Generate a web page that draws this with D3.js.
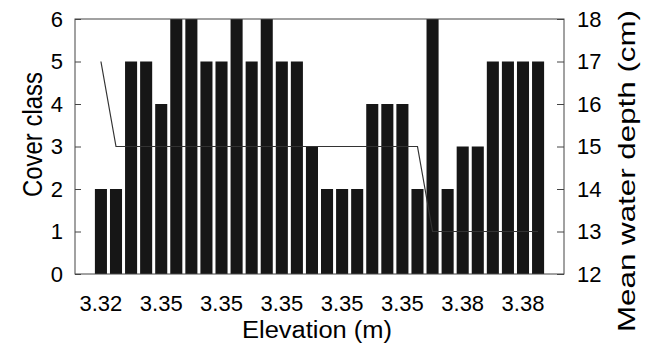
<!DOCTYPE html>
<html>
<head>
<meta charset="utf-8">
<script src="https://cdn.jsdelivr.net/npm/d3@7"></script>
<style>
  body { margin: 0; background: #fff; }
  svg text { font-family: 'Liberation Sans', Arial, sans-serif; fill: #000; }
</style>
</head>
<body>
<div id="chart"></div>
<script>
// cover class per sampling point (bars)
const coverClass = [2, 2, 5, 5, 4, 6, 6, 5, 5, 6, 5, 6, 5, 5, 3, 2, 2, 2, 4, 4, 4, 2, 6, 2, 3, 3, 5, 5, 5, 5];
// mean water depth (cm) per sampling point (line)
const waterDepth = [17, 15, 15, 15, 15, 15, 15, 15, 15, 15, 15, 15, 15, 15, 15, 15, 15, 15, 15, 15, 15, 15,
  13, 13, 13, 13, 13, 13, 13, 13];
// elevation labels, shown under every 4th bar
const elevationLabels = ['3.32', '3.35', '3.35', '3.35', '3.35', '3.35', '3.38', '3.38'];
const labelBars = [0, 4, 8, 12, 16, 20, 24, 28];
const coverTicks = [0, 1, 2, 3, 4, 5, 6];
const depthTicks = [12, 13, 14, 15, 16, 17, 18];

const W = 650;
const H = 354;
const margin = { top: 19, right: 86, bottom: 80, left: 75 };
const width = W - margin.left - margin.right;
const height = H - margin.top - margin.bottom;

const svg = d3.select('#chart').append('svg')
  .attr('width', W)
  .attr('height', H);

const g = svg.append('g')
  .attr('transform', `translate(${margin.left},${margin.top})`);

const x = d3.scaleBand()
  .domain(d3.range(coverClass.length))
  .range([0, width])
  .paddingInner(0.2)
  .paddingOuter(1.32);

const y = d3.scaleLinear().domain([0, 6]).range([height, 0]);
const y2 = d3.scaleLinear().domain([12, 18]).range([height, 0]);

// bars
g.selectAll('.bar')
  .data(coverClass)
  .enter()
  .append('rect')
  .attr('class', 'bar')
  .attr('x', (d, i) => x(i))
  .attr('width', x.bandwidth())
  .attr('y', d => y(d))
  .attr('height', d => height - y(d))
  .attr('fill', '#161616');

// water depth line
const line = d3.line()
  .x((d, i) => x(i) + x.bandwidth() / 2)
  .y(d => y2(d));

g.append('path')
  .datum(waterDepth)
  .attr('d', line)
  .attr('fill', 'none')
  .attr('stroke', '#333')
  .attr('stroke-width', 1.2);

// frame
g.append('rect')
  .attr('width', width)
  .attr('height', height)
  .attr('fill', 'none')
  .attr('stroke', '#444')
  .attr('stroke-width', 1);

// left axis
const yAxis = d3.axisLeft(y)
  .tickValues(coverTicks)
  .tickFormat(d3.format('d'))
  .tickSizeInner(-6)
  .tickSizeOuter(0)
  .tickPadding(12);
const gy = g.append('g').call(yAxis);
gy.select('.domain').remove();
gy.selectAll('line').attr('stroke', '#444');
gy.selectAll('text').style('font-size', '22px').attr('fill', '#000');

// right axis
const y2Axis = d3.axisRight(y2)
  .tickValues(depthTicks)
  .tickFormat(d3.format('d'))
  .tickSizeInner(-7)
  .tickSizeOuter(0)
  .tickPadding(13);
const gy2 = g.append('g').attr('transform', `translate(${width},0)`).call(y2Axis);
gy2.select('.domain').remove();
gy2.selectAll('line').attr('stroke', '#444');
gy2.selectAll('text').style('font-size', '22px').attr('fill', '#000');

// elevation tick labels
g.selectAll('.xlabel')
  .data(elevationLabels)
  .enter()
  .append('text')
  .attr('class', 'xlabel')
  .attr('x', (d, i) => x(labelBars[i]) + x.bandwidth() / 2)
  .attr('y', height + 37)
  .attr('text-anchor', 'middle')
  .style('font-size', '22px')
  .text(d => d);

// axis titles
svg.append('text')
  .attr('x', 317)
  .attr('y', 338)
  .attr('text-anchor', 'middle')
  .style('font-size', '23px')
  .attr('textLength', 150)
  .attr('lengthAdjust', 'spacingAndGlyphs')
  .text('Elevation (m)');

svg.append('text')
  .attr('transform', 'translate(42,134.5) rotate(-90)')
  .attr('text-anchor', 'middle')
  .style('font-size', '27px')
  .attr('textLength', 125)
  .attr('lengthAdjust', 'spacingAndGlyphs')
  .text('Cover class');

svg.append('text')
  .attr('transform', 'translate(635,171) rotate(-90)')
  .attr('text-anchor', 'middle')
  .style('font-size', '24px')
  .attr('textLength', 322)
  .attr('lengthAdjust', 'spacingAndGlyphs')
  .text('Mean water depth (cm)');
</script>
</body>
</html>
